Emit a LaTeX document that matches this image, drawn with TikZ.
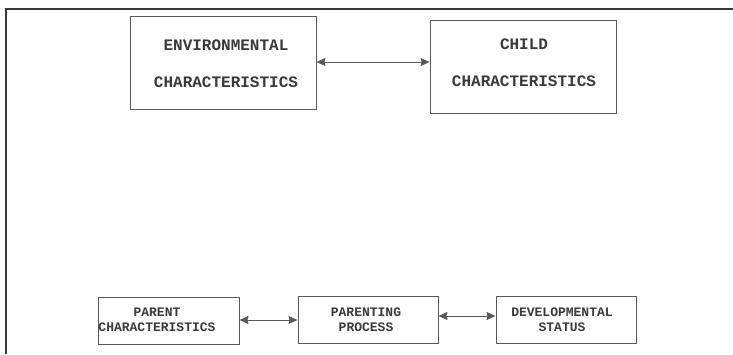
\documentclass[tikz,border=0pt]{standalone}
\usepackage{fontspec}
\setmonofont{Liberation Mono}
\usetikzlibrary{arrows.meta}
\definecolor{ink}{HTML}{3A3A3A}
\definecolor{edge}{HTML}{5A5A5A}
\tikzset{
  box/.style={draw=edge, line width=0.9pt, inner sep=0pt},
  bigtxt/.style={text=ink, font=\ttfamily\bfseries\fontsize{16}{37}\selectfont, align=center, inner sep=0pt},
  smalltxt/.style={text=ink, font=\ttfamily\bfseries\fontsize{13}{15}\selectfont, align=center, inner sep=0pt},
  link/.style={draw=edge, line width=0.9pt, {Stealth[length=9pt,width=8pt,inset=1pt]}-{Stealth[length=9pt,width=8pt,inset=1pt]}},
}
\begin{document}
\begin{tikzpicture}[x=1pt,y=-1pt]
\useasboundingbox (0,0) rectangle (733,354);
\fill[white] (0,0) rectangle (733,354);
% frame
\draw[draw=ink, line width=1.8pt] (6,354) -- (6,9) -- (733,9);
% top boxes
\node[box, minimum width=186, minimum height=93] (env) at (223,62.5) {};
\node[bigtxt] (envt) at (226,64) {ENVIRONMENTAL\\CHARACTERISTICS};
\node[box, minimum width=186, minimum height=93] (child) at (523,66.5) {};
\node[bigtxt] (childt) at (524,62.5) {CHILD\\CHARACTERISTICS};
\draw[link] ([yshift=0.5]env.east) -- ([yshift=0.5]env.east -| child.west);
% bottom boxes
\node[box, minimum width=141, minimum height=47] (parent) at (168.5,320.5) {};
\node[smalltxt] (parentt) at (157,320) {PARENT\\CHARACTERISTICS};
\node[box, minimum width=140, minimum height=47] (process) at (368,319.5) {};
\node[smalltxt] (processt) at (366,320) {PARENTING\\PROCESS};
\node[box, minimum width=140, minimum height=47] (dev) at (566,319.5) {};
\node[smalltxt] (devt) at (562,320) {DEVELOPMENTAL\\STATUS};
\draw[link] ([yshift=0.5]parent.east) -- ([yshift=0.5]parent.east -| process.west);
\draw[link] ([yshift=3.5]process.east) -- ([yshift=3.5]process.east -| dev.west);
\end{tikzpicture}
\end{document}
